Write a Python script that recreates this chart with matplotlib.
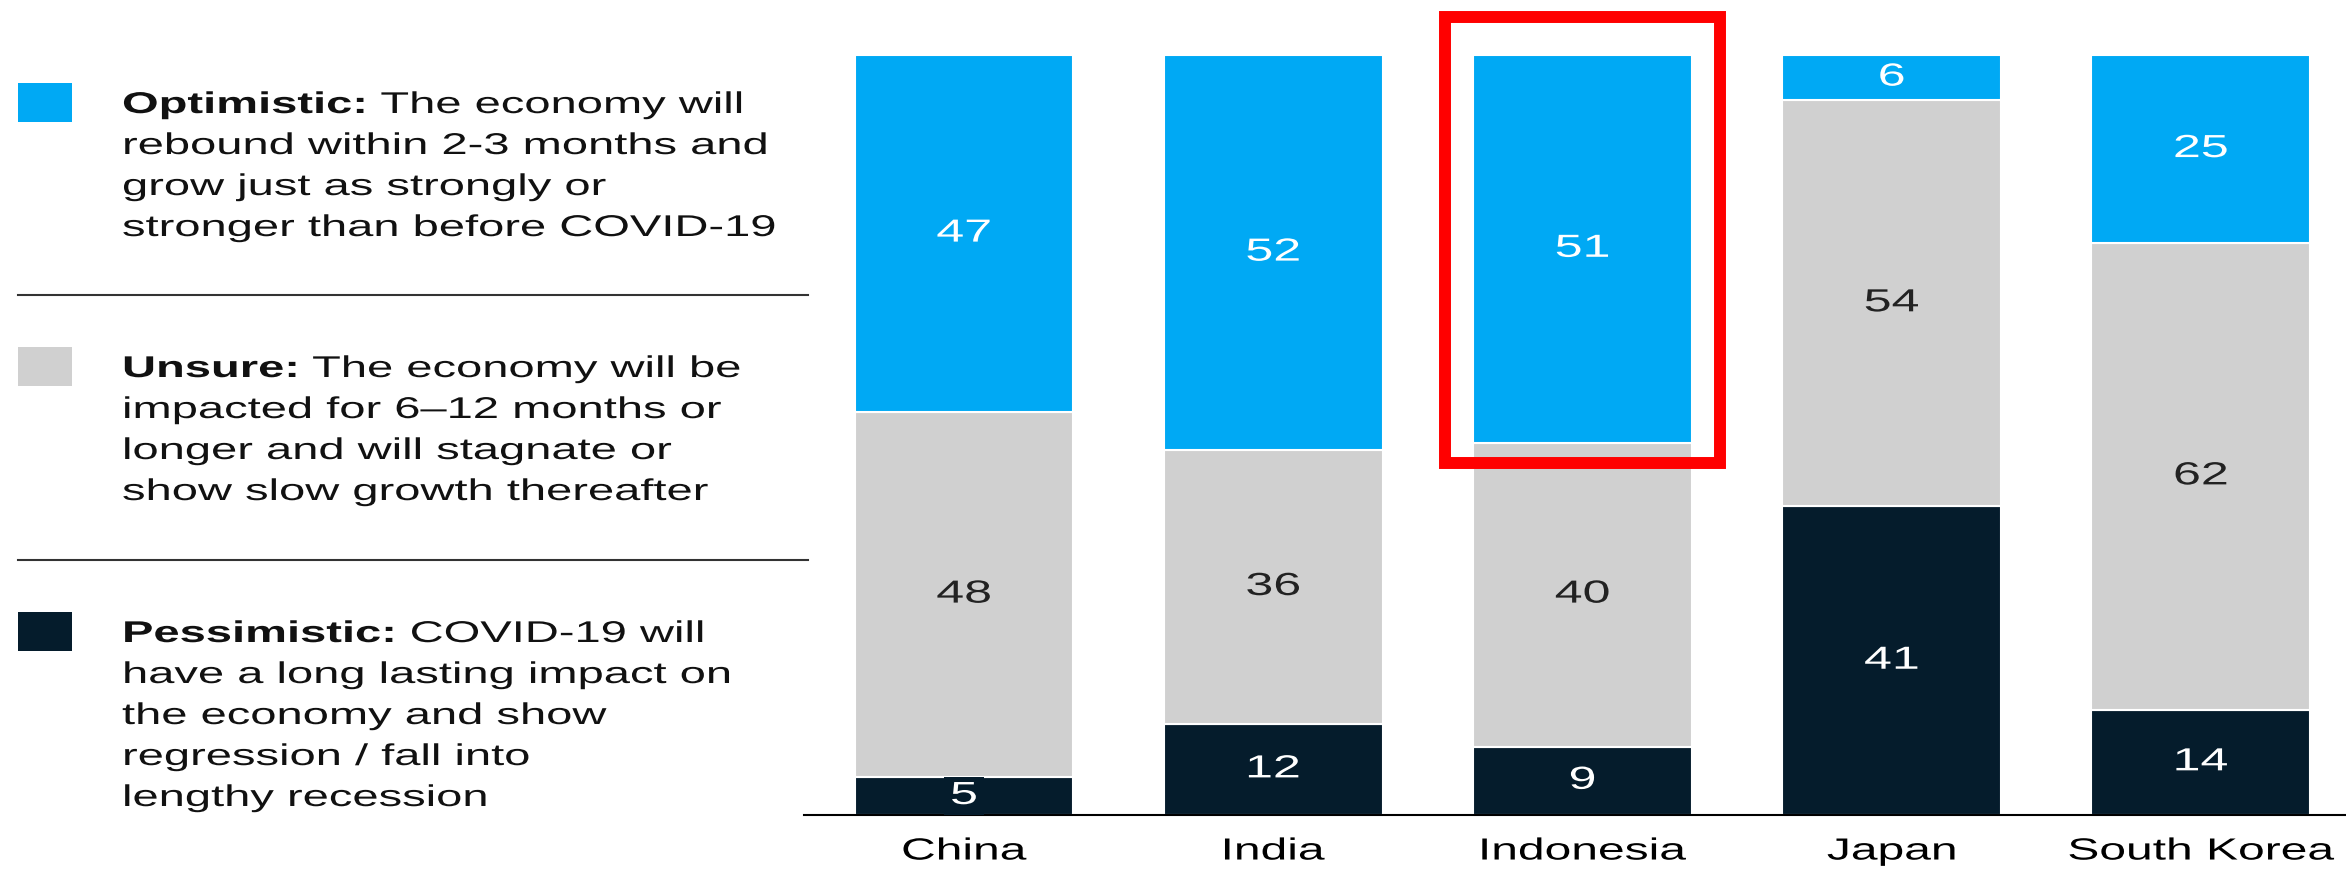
import matplotlib
matplotlib.use("Agg")
import matplotlib.pyplot as plt
import numpy as np
from matplotlib.lines import Line2D
from matplotlib.patches import Rectangle
from matplotlib.patheffects import AbstractPathEffect
from matplotlib.transforms import Affine2D

countries = ["China", "India", "Indonesia", "Japan", "South Korea"]
optimistic = [47, 52, 51, 6, 25]
unsure = [48, 36, 40, 54, 62]
pessimistic = [5, 12, 9, 41, 14]
highlight = "Indonesia"

series_names = ["Optimistic:", "Unsure:", "Pessimistic:"]
series_text = [
    [" The economy will", "rebound within 2-3 months and",
     "grow just as strongly or", "stronger than before COVID-19"],
    [" The economy will be", "impacted for 6–12 months or",
     "longer and will stagnate or", "show slow growth thereafter"],
    [" COVID-19 will", "have a long lasting impact on",
     "the economy and show", "regression / fall into", "lengthy recession"],
]

BLUE = "#00A9F4"
GREY = "#D0D0D0"
NAVY = "#051C2C"
series_colors = [BLUE, GREY, NAVY]

W, H = 2346, 869
STRETCH = 1.57  # wide lettering, glyphs are scaled horizontally


class HStretch(AbstractPathEffect):
    """Scale glyph outlines horizontally, about the left edge or the centre."""

    def __init__(self, sx, about="left"):
        super().__init__()
        self.sx = sx
        self.about = about

    def draw_path(self, renderer, gc, tpath, affine, rgbFace=None):
        cx = 0.0
        if self.about == "center":
            ext = tpath.get_extents()
            cx = (ext.x0 + ext.x1) / 2
        pre = Affine2D().translate(-cx, 0).scale(self.sx, 1).translate(cx, 0)
        renderer.draw_path(gc, tpath, pre + affine, rgbFace)


def fx(px):
    return px / W


def fy(py):
    return 1 - py / H


plt.rcParams["font.family"] = ["Liberation Sans", "DejaVu Sans"]

fig = plt.figure(figsize=(W / 100, H / 100), dpi=100)
fig.patch.set_facecolor("white")

# plot area: baseline at y=815px, 100% at y=55px
ax = fig.add_axes([fx(804), fy(815), fx(2346 - 804), (815 - 55) / H])
x = np.arange(len(countries))
opt = np.array(optimistic, dtype=float)
uns = np.array(unsure, dtype=float)
pes = np.array(pessimistic, dtype=float)
totals = opt + uns + pes
shares = [pes / totals * 100, uns / totals * 100, opt / totals * 100]
raw = [pes, uns, opt]
colors = [NAVY, GREY, BLUE]
text_colors = ["white", "#222222", "white"]

bottom = np.zeros(len(countries))
for share, vals, col, tcol in zip(shares, raw, colors, text_colors):
    ax.bar(x, share, 0.708, bottom=bottom, color=col,
           edgecolor="white", linewidth=1.5)
    for i in range(len(countries)):
        small = share[i] < 5.5 and col == NAVY
        t = ax.text(x[i], bottom[i] + share[i] / 2, f"{vals[i]:.0f}",
                    ha="center", va="center", fontsize=23, color=tcol,
                    zorder=5, path_effects=[HStretch(STRETCH, "center")])
        if small:
            t.set_bbox(dict(boxstyle="square,pad=0.13", fc=NAVY, ec="none"))
            t.get_bbox_patch().set_path_effects([HStretch(STRETCH, "center")])
    bottom += share

ax.set_xlim(-0.5174, 4.469)
ax.set_ylim(0, 100)
ax.set_yticks([])
for side in ["top", "right", "left"]:
    ax.spines[side].set_visible(False)
ax.spines["bottom"].set_color("black")
ax.spines["bottom"].set_linewidth(1.5)
ax.set_xticks(x, countries, fontsize=22, color="black",
              path_effects=[HStretch(STRETCH, "center")])
ax.tick_params(axis="x", length=0, pad=15.5)

# highlight frame around the optimistic share
hi = countries.index(highlight)
ax.add_patch(Rectangle((hi - 0.445, 46.3), 0.89, 58.7, fill=False,
                       ec="#FF0000", lw=8.6, joinstyle="miter",
                       clip_on=False, zorder=6))

# legend column on the left
renderer = fig.canvas.get_renderer()
first_baselines = [113, 377, 642]
line_step = 41
for k, (name, lines) in enumerate(zip(series_names, series_text)):
    base = first_baselines[k]
    fig.add_artist(Rectangle((fx(18), fy(base - 30 + 39)), fx(54), 39 / H,
                             transform=fig.transFigure,
                             fc=series_colors[k], ec="none"))
    b = fig.text(fx(122), fy(base), name, fontsize=21.6, fontweight="bold",
                 color="#111111", va="baseline", ha="left",
                 path_effects=[HStretch(STRETCH)])
    bw = b.get_window_extent(renderer).width * STRETCH
    fig.text(fx(122 + bw), fy(base), lines[0], fontsize=21.6,
             color="#111111", va="baseline", ha="left",
             path_effects=[HStretch(STRETCH)])
    for j, line in enumerate(lines[1:], start=1):
        fig.text(fx(122), fy(base + j * line_step), line, fontsize=21.6,
                 color="#111111", va="baseline", ha="left",
                 path_effects=[HStretch(STRETCH)])

for sep in [295, 560]:
    fig.add_artist(Line2D([fx(18), fx(808)], [fy(sep), fy(sep)],
                          color="#333333", lw=1.5))

fig.savefig("out.png", dpi=100, facecolor="white")
